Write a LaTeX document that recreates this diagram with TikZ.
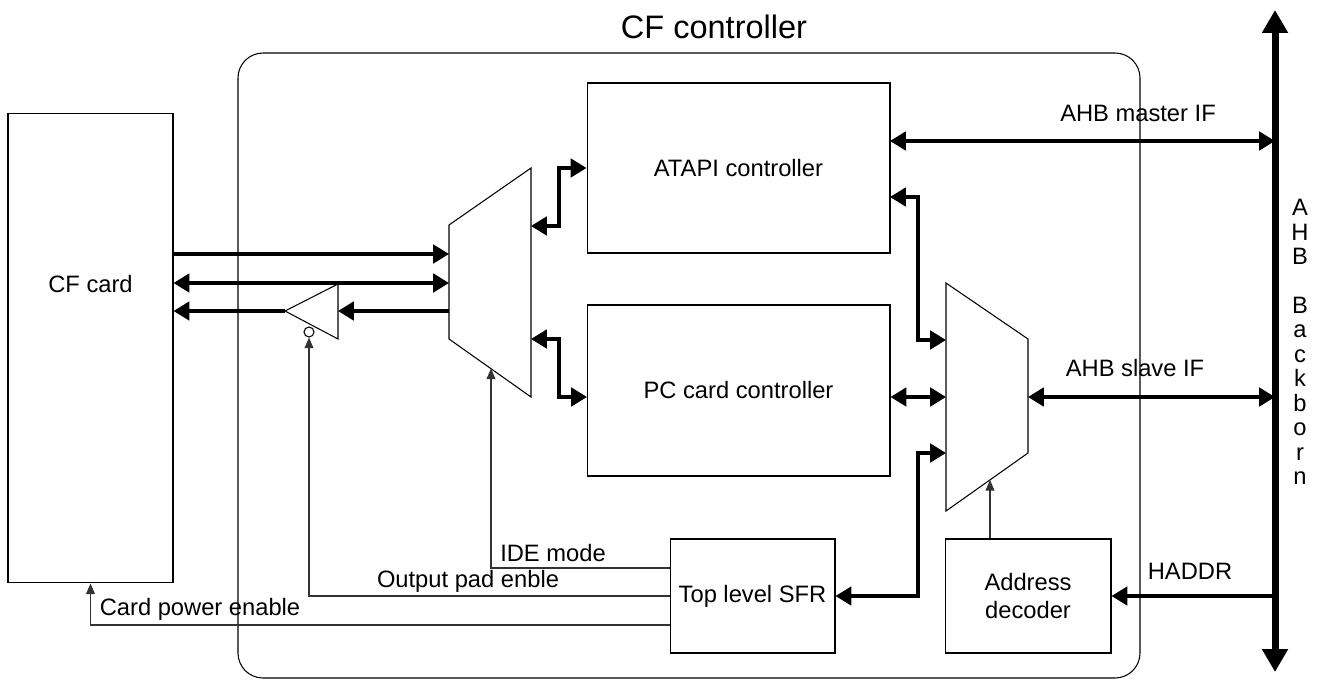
\documentclass[tikz,border=0pt]{standalone}
\usepackage{fontspec}
\setmainfont{Liberation Sans}
\usetikzlibrary{arrows.meta}

\begin{document}
\begin{tikzpicture}[
    x=0.02cm, y=-0.02cm,
    box/.style={draw, line width=0.6pt, inner sep=2pt, align=center, font=\fontsize{13.5}{15.5}\selectfont},
    lbl/.style={font=\fontsize{13.5}{15.5}\selectfont},
    bus/.style={line width=1.9pt, {Triangle[length=9pt,width=10.5pt]}-{Triangle[length=9pt,width=10.5pt]}},
    busto/.style={line width=1.9pt, -{Triangle[length=9pt,width=10.5pt]}},
    ctl/.style={draw=black!80, line width=0.6pt, -{Triangle[length=6pt,width=5pt]}},
    mux/.style={line width=0.6pt}
]
\useasboundingbox (0,0) rectangle (1317,682);

% ======================
% Outer frame
% ======================
\node[lbl, font=\fontsize{18.5}{20}\selectfont] (title) at (714,27) {CF controller};
\draw[line width=0.6pt, rounded corners=0.5cm] (238,53) rectangle (1140,678);

% ======================
% Blocks
% ======================
\node[box, minimum width=3.3cm, minimum height=9.4cm] (card) at (90.5,348) {};
\node[lbl] (cardtxt) at (90.5,284) {CF card};
\node[box, minimum width=6.06cm, minimum height=3.4cm] (atapi) at (738.5,168) {ATAPI controller};
\node[box, minimum width=6.06cm, minimum height=3.42cm] (pc) at (738.5,390.5) {PC card controller};
\node[box, minimum width=3.3cm, minimum height=2.28cm] (sfr) at (752.5,596) {Top level SFR};
\node[box, minimum width=3.32cm, minimum height=2.28cm] (dec) at (1028,596) {Address\\decoder};

% ======================
% Muxes and buffer
% ======================
\draw[mux] (449,225) -- (531,168) -- (531,397) -- (449,339) -- cycle;
\coordinate (lm1) at (449,254);
\coordinate (lm2) at (449,283);
\coordinate (lm3) at (449,311);
\coordinate (lmR1) at (531,226);
\coordinate (lmR2) at (531,339);
\coordinate (lmB) at (491,368.5);

\draw[mux] (946,283) -- (1028,339) -- (1028,453) -- (946,511) -- cycle;
\coordinate (rm1) at (946,340);
\coordinate (rm2) at (946,397);
\coordinate (rm3) at (946,453);
\coordinate (rmR) at (1028,397);
\coordinate (rmB) at (990,480);

\draw[mux] (285,311) -- (338,284) -- (338,339) -- cycle;
\coordinate (bufA) at (285,311);
\coordinate (bufR) at (338,311);
\node[circle, draw, line width=0.6pt, minimum size=0.2cm, inner sep=0pt] (bub) at (309,332) {};

% ======================
% Backbone
% ======================
\coordinate (bbTop) at (1275,10);
\coordinate (bbBot) at (1275,672);
\draw[line width=4pt, {Triangle[length=13pt,width=14pt]}-{Triangle[length=13pt,width=14pt]}] (bbTop) -- (bbBot);
\node[align=center, font=\fontsize{13.5}{13.9}\selectfont] (bbtxt) at (1300,342)
    {A\\H\\B\\[13.9pt]B\\a\\c\\k\\b\\o\\r\\n};

% ======================
% Data paths
% ======================
\draw[busto] (card.east |- lm1) -- (lm1);
\draw[bus] (card.east |- lm2) -- (lm2);
\draw[busto] (lm3) -- (bufR);
\draw[busto] (bufA) -- (card.east |- lm3);

\draw[bus] (lmR1) -- ++(28,0) |- (atapi.west);
\coordinate (pcL) at (587,397);
\draw[bus] (lmR2) -- ++(28,0) |- (pcL);

\coordinate (atR) at (890,197);
\draw[bus] (atR) -- ++(28,0) |- (rm1);
\draw[bus] (pc.east |- rm2) -- (rm2);
\draw[bus] (rm3) -- ++(-28,0) |- (sfr.east);

\coordinate (atM) at (890,141);
\draw[bus] (atM) -- (atM -| bbTop);
\draw[bus] (rmR) -- (rmR -| bbTop);
\draw[busto] (dec.east -| bbTop) -- (dec.east);

\node[lbl] (mastertxt) at (1138,113) {AHB master IF};
\node[lbl] (slavetxt) at (1135,368) {AHB slave IF};
\node[lbl] (haddrtxt) at (1190,571) {HADDR};

% ======================
% Control lines
% ======================
\draw[ctl] (sfr.west |- 0,568) -| (lmB);
\draw[ctl] (sfr.west) -| (bub.south);
\draw[ctl] (sfr.west |- 0,625) -| (card.south);
\draw[ctl] (dec.north -| rmB) -- (rmB);

\node[lbl] (idetxt) at (553,553) {IDE mode};
\node[lbl] (padtxt) at (468,581) {Output pad enble};
\node[lbl] (pwrtxt) at (200,609) {Card power enable};

\end{tikzpicture}
\end{document}
